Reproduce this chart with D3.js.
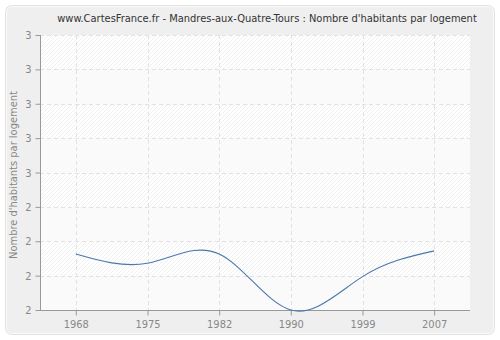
<!DOCTYPE html>
<html><head><meta charset="utf-8">
<script src="https://cdn.jsdelivr.net/npm/d3@7"></script>
<style>body{margin:0;background:#fff;font-family:"DejaVu Sans Condensed","Liberation Sans",sans-serif}</style>
</head><body><svg id="c" width="500" height="340"></svg>
<script>
const years = ["1968","1975","1982","1990","1999","2007"];
const values = [2.263, 2.236, 2.263, 2.1, 2.197, 2.272];
const yTicks = [2.1,2.2,2.3,2.4,2.5,2.6,2.7,2.8,2.9];
const yTickLabels = ["2","2","2","2","3","3","3","3","3"];
const title = "www.CartesFrance.fr - Mandres-aux-Quatre-Tours : Nombre d'habitants par logement";
const yLabel = "Nombre d'habitants par logement";
const FONT = "DejaVu Sans Condensed, Liberation Sans, sans-serif";

const svg = d3.select("#c");
const L=40,R=470,T=35,B=310;
const defs = svg.append("defs");
const pat = defs.append("pattern").attr("id","hatch").attr("patternUnits","userSpaceOnUse")
  .attr("width",4).attr("height",4);
pat.append("rect").attr("width",4).attr("height",4).attr("fill","#ffffff");
pat.append("path").attr("d","M-1,1 l2,-2 M0,4 l4,-4 M3,5 l2,-2").attr("stroke","#ececec").attr("stroke-width",0.8);

svg.append("rect").attr("x",5.5).attr("y",5.5).attr("width",489).attr("height",329).attr("rx",6)
  .attr("fill","#efefef").attr("stroke","#e2e2e2");
svg.append("rect").attr("x",6.5).attr("y",6.5).attr("width",487).attr("height",327).attr("rx",5)
  .attr("fill","none").attr("stroke","#fafafa");

const x = d3.scalePoint().domain(years).range([L,R]).padding(0.5);
const y = d3.scaleLinear().domain([2.1,2.9]).range([B,T]);

svg.append("rect").attr("x",L).attr("y",T).attr("width",R-L).attr("height",B-T).attr("fill","url(#hatch)");
for(let i=0;i<yTicks.length-1;i++){
  if(i%2===0){
    svg.append("rect").attr("x",L).attr("width",R-L)
      .attr("y",y(yTicks[i+1])).attr("height",y(yTicks[i])-y(yTicks[i+1]))
      .attr("fill","#fafafa").attr("opacity",0.75);
  }
}
const g = svg.append("g");
g.selectAll("line.h").data(yTicks.slice(1)).join("line")
  .attr("x1",L).attr("x2",R).attr("y1",d=>Math.round(y(d))+0.5).attr("y2",d=>Math.round(y(d))+0.5)
  .attr("stroke","#e2e2e2").attr("stroke-dasharray","4,3");
g.selectAll("line.v").data(years).join("line")
  .attr("y1",T).attr("y2",B).attr("x1",d=>Math.round(x(d))+0.5).attr("x2",d=>Math.round(x(d))+0.5)
  .attr("stroke","#e2e2e2").attr("stroke-dasharray","4,3");

const ya = svg.append("g").attr("transform",`translate(${L+0.5},0)`)
  .call(d3.axisLeft(y).tickValues(yTicks).tickFormat((d,i)=>yTickLabels[i]).tickSize(5).tickPadding(4));
const xa = svg.append("g").attr("transform",`translate(0,${B+0.5})`)
  .call(d3.axisBottom(x).tickSize(5).tickPadding(5));
[ya,xa].forEach(a=>{
  a.select(".domain").attr("stroke","#999");
  a.selectAll(".tick line").attr("stroke","#999");
  a.selectAll(".tick text").attr("fill","#888").attr("font-size",11).attr("font-family",FONT);
});
xa.select(".domain").attr("d",`M${L},0H${R}`);
ya.select(".domain").attr("d",`M0,${T}V${B}`);

svg.append("path").datum(values.map((v,i)=>[x(years[i]),y(v)]))
  .attr("d",d3.line().curve(d3.curveNatural))
  .attr("fill","none").attr("stroke","#4a78ad").attr("stroke-width",1.1);

svg.append("text").attr("x",267).attr("y",22).attr("text-anchor","middle").attr("font-family",FONT)
  .attr("font-size",11).attr("fill","#333").text(title);
svg.append("text").attr("transform","translate(17,175) rotate(-90)").attr("text-anchor","middle").attr("font-family",FONT)
  .attr("font-size",11).attr("fill","#888").text(yLabel);
</script></body></html>
